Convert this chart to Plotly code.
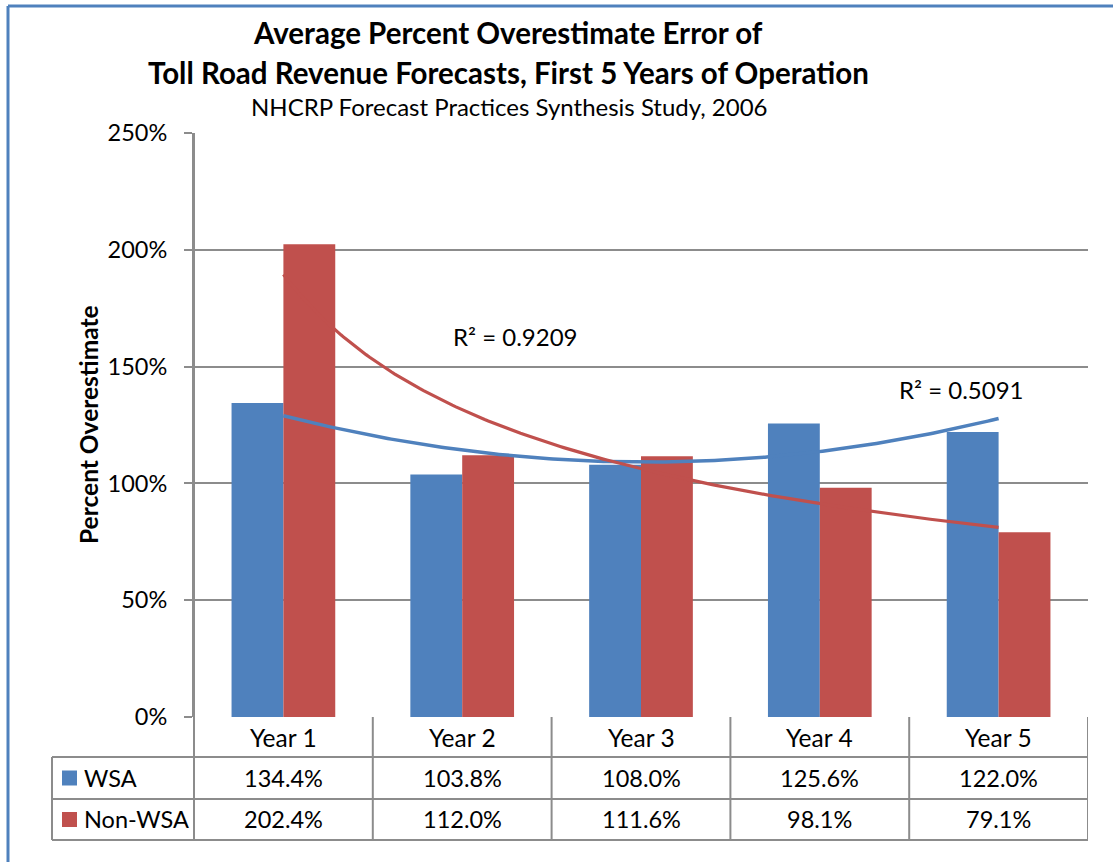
import numpy as np
import plotly.graph_objects as go

# ---------------- data ----------------
categories = ["Year 1", "Year 2", "Year 3", "Year 4", "Year 5"]
wsa = [134.4, 103.8, 108.0, 125.6, 122.0]
non_wsa = [202.4, 112.0, 111.6, 98.1, 79.1]
series_names = ["WSA", "Non-WSA"]
r2_labels = ["R² = 0.9209", "R² = 0.5091"]
y_tick_vals = [0, 50, 100, 150, 200, 250]
y_tick_text = ["0%", "50%", "100%", "150%", "200%", "250%"]
title_lines = ["Average Percent Overestimate Error of",
               "Toll Road Revenue Forecasts, First 5 Years of Operation"]
subtitle = "NHCRP Forecast Practices Synthesis Study, 2006"
y_title = "Percent Overestimate"

BLUE = "#4F81BD"
RED = "#C0504D"
GRID = "#8C8C8C"
FONT = "Lato"
FS = 23.5

# ---------------- geometry (pixels) ----------------
W, H = 1113, 862
PL, PR, PT, PB = 194, 1088, 133, 717


def px(xp):
    return (xp - PL) / (PR - PL)


def py(yp):
    return (PB - yp) / (PB - PT)


xidx = np.arange(1, len(categories) + 1)

# trendlines (Excel style): polynomial order 2 for WSA, power for Non-WSA
poly = np.polyfit(xidx, wsa, 2)
b, lna = np.polyfit(np.log(xidx), np.log(non_wsa), 1)
xs = np.linspace(1, len(categories), 200)
blue_trend = np.polyval(poly, xs)
red_trend = np.exp(lna) * xs ** b

fig = go.Figure()
fig.add_trace(go.Bar(x=xidx, y=wsa, name=series_names[0], marker_color=BLUE,
                     marker_line_width=0))
fig.add_trace(go.Bar(x=xidx, y=non_wsa, name=series_names[1], marker_color=RED,
                     marker_line_width=0))
fig.add_trace(go.Scatter(x=xs, y=blue_trend, mode="lines",
                         line=dict(color=BLUE, width=3.5), hoverinfo="skip"))
fig.add_trace(go.Scatter(x=xs, y=red_trend, mode="lines",
                         line=dict(color=RED, width=3.2), hoverinfo="skip"))

shapes = []
ann = []


def txt(text, x, y, xref="paper", yref="paper", size=FS, xanchor="center", **kw):
    ann.append(dict(text=text, x=x, y=y, xref=xref, yref=yref, showarrow=False,
                    xanchor=xanchor, yanchor="middle",
                    font=dict(family=FONT, size=size, color="black"), **kw))


# titles
txt("<b>" + title_lines[0] + "</b>", px(508), py(32), size=29.5)
txt("<b>" + title_lines[1] + "</b>", px(508), py(72), size=29.5)
txt(subtitle, px(509), py(107), size=24)
txt("<b>" + y_title + "</b>", px(88), py(425), size=24.5, textangle=-90)

# R² labels
txt(r2_labels[0], 2.30, 163, xref="x", yref="y", size=24)
txt(r2_labels[1], 4.79, 140.4, xref="x", yref="y", size=24)

# data table
row_hdr = (PB + 757) / 2
row_wsa = (757 + 799) / 2
row_non = (799 + 840) / 2
for i, cat in enumerate(categories):
    txt(cat, xidx[i], py(row_hdr), xref="x", size=24.5)
    txt(f"{wsa[i]:.1f}%", xidx[i], py(row_wsa), xref="x", size=23.5)
    txt(f"{non_wsa[i]:.1f}%", xidx[i], py(row_non), xref="x", size=23.5)

for name, col, yc in [(series_names[0], BLUE, row_wsa), (series_names[1], RED, row_non)]:
    shapes.append(dict(type="rect", xref="paper", yref="paper", x0=px(62), x1=px(77),
                       y0=py(yc + 7.5), y1=py(yc - 7.5), fillcolor=col, line_width=0))
    txt(name, px(82), py(yc), xanchor="left", size=23.5)

LINE = dict(color=GRID, width=2)
# horizontal table lines
for yl in [757, 799, 840]:
    shapes.append(dict(type="line", xref="paper", yref="paper", x0=px(52), x1=1,
                       y0=py(yl), y1=py(yl), line=LINE))
# vertical table lines
shapes.append(dict(type="line", xref="paper", yref="paper", x0=px(52), x1=px(52),
                   y0=py(757), y1=py(840), line=LINE))
shapes.append(dict(type="line", xref="paper", yref="paper", x0=0, x1=0,
                   y0=1, y1=py(840), line=LINE))
for k in range(len(categories)):
    xb = xidx[k] + 0.5
    shapes.append(dict(type="line", xref="x", yref="paper", x0=xb, x1=xb,
                       y0=0, y1=py(840), line=LINE))

# outer blue frame (top and left)
shapes.append(dict(type="line", xref="paper", yref="paper", x0=px(8), x1=px(W),
                   y0=py(6), y1=py(6), line=dict(color=BLUE, width=3)))
shapes.append(dict(type="line", xref="paper", yref="paper", x0=px(8), x1=px(8),
                   y0=py(6), y1=py(H), line=dict(color=BLUE, width=3)))

fig.update_layout(
    width=W, height=H,
    margin=dict(l=PL, r=W - PR, t=PT, b=H - PB),
    paper_bgcolor="white", plot_bgcolor="white",
    barmode="group", bargap=0.42, bargroupgap=0,
    showlegend=False,
    font=dict(family=FONT, size=FS, color="black"),
    xaxis=dict(range=[0.5, len(categories) + 0.5], showticklabels=False, showgrid=False,
               zeroline=False, ticks="", fixedrange=True, showline=False),
    yaxis=dict(range=[0, 250], tickvals=y_tick_vals, ticktext=y_tick_text,
               showgrid=True, gridcolor=GRID, gridwidth=2, zeroline=False,
               ticks="outside", ticklen=8, tickcolor=GRID, tickwidth=2,
               showline=True, linecolor=GRID, linewidth=2,
               tickfont=dict(family=FONT, size=FS, color="black"), ticklabelstandoff=12),
    shapes=shapes, annotations=ann,
)

fig.write_html("out.html", config={"displayModeBar": False},
               post_script="document.body.style.margin='0';")
